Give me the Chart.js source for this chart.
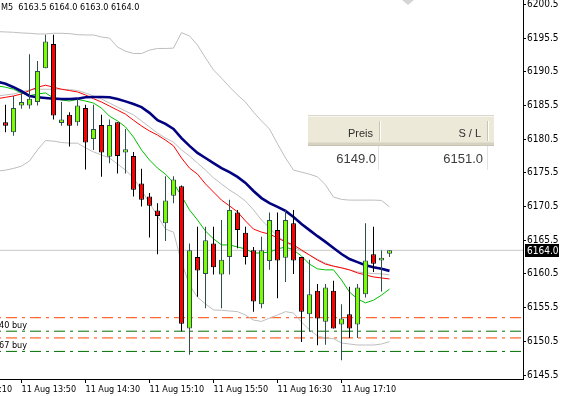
<!DOCTYPE html>
<html>
<head>
<meta charset="utf-8">
<script src="https://cdn.jsdelivr.net/npm/chart.js@4.4.1/dist/chart.umd.min.js"></script>
<style>
  html, body { margin: 0; padding: 0; background: #fff; }
  #wrap { position: relative; width: 563px; height: 396px; overflow: hidden; }
  canvas { display: block; }
</style>
</head>
<body>
<div id="wrap"><canvas id="c" width="563" height="396"></canvas></div>
<script>
// M5 candles, 11 Aug 13:40 .. 17:40
const opens  = [6183.0, 6181.5, 6185.5, 6185.5, 6186.0, 6191.0, 6194.6, 6182.9, 6184.1, 6183.0,
                6185.1, 6180.5, 6182.6, 6177.9, 6183.0, 6178.5, 6178.0, 6173.9, 6172.0, 6169.9,
                6168.0, 6172.1, 6173.5, 6152.4, 6163.0, 6160.5, 6165.0, 6160.4, 6163.0, 6169.6,
                6166.6, 6164.0, 6156.0, 6162.4, 6167.0, 6162.9, 6168.0, 6163.0, 6154.5, 6158.0,
                6153.4, 6158.0, 6153.0, 6154.5, 6153.0, 6157.5, 6163.4, 6162.5, 6163.5];
const highs  = [6185.6, 6186.9, 6187.5, 6193.1, 6192.1, 6196.0, 6196.0, 6186.0, 6184.5, 6186.5,
                6185.6, 6185.6, 6184.1, 6183.4, 6183.0, 6182.0, 6178.6, 6176.1, 6172.5, 6171.0,
                6175.0, 6175.0, 6173.6, 6165.0, 6167.5, 6167.5, 6167.5, 6168.5, 6171.5, 6170.0,
                6167.5, 6164.5, 6166.0, 6169.6, 6169.6, 6170.0, 6170.0, 6163.0, 6162.6, 6159.0,
                6159.0, 6159.5, 6156.0, 6158.6, 6159.0, 6168.0, 6167.5, 6164.0, 6164.0];
const lows   = [6181.5, 6181.0, 6185.0, 6185.0, 6185.5, 6191.0, 6183.4, 6182.5, 6179.4, 6182.5,
                6176.0, 6178.9, 6174.9, 6176.9, 6175.4, 6175.4, 6172.0, 6170.5, 6165.9, 6163.4,
                6165.4, 6171.0, 6152.0, 6148.5, 6157.1, 6155.4, 6160.4, 6155.4, 6160.4, 6164.3,
                6161.9, 6154.9, 6155.4, 6161.1, 6156.9, 6159.3, 6160.5, 6150.4, 6151.9, 6149.9,
                6150.0, 6152.4, 6147.7, 6151.0, 6151.0, 6157.0, 6160.8, 6157.9, 6163.0];
const closes = [6182.5, 6185.1, 6186.0, 6186.5, 6190.6, 6195.0, 6184.0, 6183.4, 6182.5, 6185.5,
                6180.0, 6182.0, 6178.5, 6182.6, 6178.0, 6179.0, 6173.0, 6171.5, 6170.6, 6169.1,
                6171.4, 6174.5, 6153.1, 6164.0, 6161.0, 6165.5, 6161.5, 6162.6, 6170.0, 6167.0,
                6163.0, 6156.4, 6164.0, 6168.5, 6162.5, 6168.5, 6162.5, 6154.9, 6157.5, 6153.9,
                6158.5, 6152.4, 6153.9, 6152.4, 6158.5, 6162.5, 6162.0, 6162.9, 6164.0];

// indicator lines start one bar before the first candle
const lineStart = -1;
const bandUpper  = [6196.45, 6196.4, 6196.35, 6196.25, 6196.2, 6196.1, 6196.1, 6196.2, 6196.2, 6196.15,
                    6196.0, 6195.95, 6195.95, 6195.65, 6195.5, 6194.15, 6193.55, 6193.2, 6193.2, 6193.7,
                    6193.95, 6193.95, 6194.0, 6196.3, 6195.8, 6194.45, 6192.55, 6190.75, 6189.55, 6188.25,
                    6187.05, 6186.0, 6184.5, 6183.2, 6182.0, 6179.8, 6177.7, 6175.9, 6175.6, 6175.3,
                    6174.9, 6173.7, 6171.9, 6171.55, 6171.45, 6171.45, 6171.45, 6171.45, 6171.4, 6170.45];
const bandMiddle = [6186.9, 6187.05, 6187.2, 6187.5, 6187.8, 6187.9, 6187.9, 6187.9, 6187.9, 6187.85,
                    6187.7, 6187.35, 6186.9, 6186.45, 6185.85, 6185.25, 6184.65, 6184.1, 6183.2, 6182.3,
                    6181.4, 6180.65, 6180.05, 6178.9, 6178.0, 6176.95, 6175.9, 6174.75, 6173.85, 6172.95,
                    6172.2, 6171.3, 6170.0, 6168.5, 6167.3, 6166.1, 6165.25, 6164.5, 6163.9, 6163.3,
                    6162.7, 6162.1, 6161.65, 6161.4, 6161.1, 6160.8, 6160.65, 6160.55, 6160.5, 6160.35];
const bandLower  = [6175.75, 6175.9, 6176.15, 6176.5, 6177.25, 6178.9, 6180.3, 6180.2, 6180.0, 6179.9,
                    6179.9, 6179.2, 6178.6, 6178.15, 6177.7, 6176.8, 6175.9, 6174.75, 6172.95, 6171.0,
                    6169.1, 6167.15, 6166.7, 6162.25, 6158.85, 6157.05, 6156.05, 6155.15, 6155.1, 6155.0,
                    6154.9, 6154.4, 6153.65, 6153.45, 6153.95, 6154.4, 6154.9, 6154.7, 6153.35, 6152.2,
                    6151.3, 6151.0, 6150.9, 6150.25, 6150.1, 6149.95, 6149.95, 6149.95, 6150.1, 6150.45];
const maRed      = [6186.5, 6186.7, 6186.9, 6187.2, 6187.7, 6188.2, 6188.5, 6188.2, 6187.9, 6187.7,
                    6187.5, 6187.05, 6186.5, 6186.0, 6185.4, 6184.8, 6184.2, 6183.3, 6182.45, 6181.7,
                    6181.1, 6180.35, 6179.5, 6177.7, 6176.2, 6175.3, 6173.85, 6172.65, 6171.45, 6170.6,
                    6169.7, 6168.35, 6167.15, 6166.7, 6166.4, 6165.85, 6165.25, 6164.8, 6164.05, 6163.3,
                    6162.55, 6161.95, 6161.65, 6161.4, 6161.1, 6160.65, 6160.35, 6160.05, 6159.9, 6159.75];
const maGreen    = [6188.4, 6188.2, 6187.9, 6187.35, 6186.95, 6187.2, 6187.35, 6186.6, 6186.3, 6186.15,
                    6186.4, 6186.15, 6185.85, 6185.1, 6183.9, 6183.2, 6182.3, 6180.8, 6178.9, 6177.4,
                    6176.2, 6175.3, 6174.0, 6172.05, 6170.0, 6168.5, 6166.85, 6165.7, 6164.8, 6164.8,
                    6164.5, 6164.2, 6163.6, 6163.6, 6163.75, 6164.2, 6164.5, 6164.05, 6163.15, 6161.95,
                    6161.25, 6161.1, 6161.1, 6159.6, 6157.8, 6156.8, 6156.2, 6156.6, 6157.35, 6158.25];
const maNavy     = [6189.0, 6188.7, 6188.2, 6187.6, 6186.9, 6186.7, 6186.6, 6186.5, 6186.45, 6186.45,
                    6186.5, 6186.7, 6186.75, 6186.75, 6186.7, 6186.45, 6186.1, 6185.7, 6185.25, 6184.4,
                    6183.3, 6182.75, 6182.0, 6180.65, 6179.5, 6178.45, 6177.7, 6176.95, 6176.2, 6175.6,
                    6174.9, 6174.0, 6172.8, 6171.75, 6171.0, 6170.45, 6169.85, 6168.95, 6167.9, 6167.0,
                    6166.1, 6165.25, 6164.35, 6163.45, 6162.7, 6162.25, 6161.8, 6161.5, 6161.25, 6160.95];

// order levels
const stopLevels  = [6154.0, 6151.0];
const openLevels  = [6152.0, 6149.0];
const openLabels  = ['40 buy', '67 buy'];
const orderHeader = ['Preis', 'S / L'];
const orderValues = [6149.0, 6151.0];

// axes
const timeframe  = 'M5';
const tickIndex  = [-6, 2, 10, 18, 26, 34, 42];
const tickLabels = ['11 Aug 13:10', '11 Aug 13:50', '11 Aug 14:30', '11 Aug 15:10',
                    '11 Aug 15:50', '11 Aug 16:30', '11 Aug 17:10'];
const yTicks = [6145.5, 6150.5, 6155.5, 6160.5, 6165.5, 6170.5, 6175.5,
                6180.5, 6185.5, 6190.5, 6195.5, 6200.5];

const X_MIN = -0.6875, X_MAX = 64.6875;
const Y_MIN = 6144.907, Y_MAX = 6201.14;

const BULL = '#7CFC00', BEAR = '#FF0000', BULL_LINE = '#2F4F4F', BEAR_LINE = '#000000';
const FONT = '"DejaVu Sans Condensed", "Liberation Sans", Arial, sans-serif';
const TABLE_FONT = '"Liberation Sans", Arial, sans-serif';

const isBull = closes.map((c, i) => c >= opens[i]);

function series(arr) {
  return arr.map((v, k) => ({ x: k + lineStart, y: v }));
}
function hline(v) {
  return [{ x: X_MIN, y: v }, { x: X_MAX, y: v }];
}
function lineSet(data, color, width, order) {
  return { type: 'line', data: data, borderColor: color, borderWidth: width,
           pointRadius: 0, tension: 0, fill: false, order: order };
}
function levelSet(v, color) {
  const ds = lineSet(hline(v), color, 1, 8);
  ds.borderDash = [11, 5, 3, 5];
  ds.borderDashOffset = 18;
  return ds;
}

const datasets = [
  lineSet(hline(closes[closes.length - 1]), '#C8C8C8', 1, 9),
  ...stopLevels.map(v => levelSet(v, '#FF4500')),
  ...openLevels.map(v => levelSet(v, '#007000')),
  lineSet(series(bandUpper), '#BDBDBD', 1, 6),
  lineSet(series(bandMiddle), '#BDBDBD', 1, 6),
  lineSet(series(bandLower), '#BDBDBD', 1, 6),
  lineSet(series(maRed), '#FF0000', 1, 5),
  lineSet(series(maGreen), '#00C000', 1, 4),
  lineSet(series(maNavy), '#000080', 2.6, 3),
  {
    type: 'bar',
    data: highs.map((h, i) => ({ x: i, y: [lows[i], h] })),
    backgroundColor: isBull.map(b => b ? BULL_LINE : BEAR_LINE),
    borderWidth: 0, grouped: false, barThickness: 1, maxBarThickness: 1,
    inflateAmount: 0, order: 1
  },
  {
    type: 'bar',
    data: opens.map((o, i) => ({ x: i, y: [o, closes[i]] })),
    backgroundColor: isBull.map(b => b ? BULL : BEAR),
    borderColor: isBull.map(b => b ? BULL_LINE : BEAR_LINE),
    borderWidth: 1, borderSkipped: false, grouped: false,
    barThickness: 5, maxBarThickness: 5, inflateAmount: 0, order: 0
  }
];

const overlay = {
  id: 'overlay',
  afterDraw(chart) {
    const ctx = chart.ctx;
    const ys = chart.scales.y;
    const n = closes.length - 1;
    ctx.save();
    ctx.textBaseline = 'alphabetic';

    // title
    ctx.fillStyle = '#000';
    ctx.font = '9px ' + FONT;
    ctx.textAlign = 'left';
    ctx.fillText(timeframe + '  ' + [opens[n], highs[n], lows[n], closes[n]].map(v => v.toFixed(1)).join(' '), 1, 10);

    // order labels
    ctx.textAlign = 'right';
    openLevels.forEach((v, k) => {
      ctx.fillText(openLabels[k], 27, Math.round(ys.getPixelForValue(v)) - 3);
    });

    // tip of an object peeking in at the top edge
    ctx.fillStyle = '#D4D4D4';
    ctx.beginPath();
    ctx.moveTo(402, 0);
    ctx.lineTo(414, 0);
    ctx.lineTo(408, 5);
    ctx.closePath();
    ctx.fill();

    // price tag
    const py = Math.round(ys.getPixelForValue(closes[n]));
    ctx.fillStyle = '#000';
    ctx.fillRect(525, py - 6, 34, 13);
    ctx.fillStyle = '#fff';
    ctx.font = '10px ' + FONT;
    ctx.textAlign = 'left';
    ctx.fillText(closes[n].toFixed(1), 527, py + 4);

    // order table
    ctx.fillStyle = '#ECE9D8';
    ctx.fillRect(308, 115, 186, 31);
    ctx.fillStyle = '#DAD7CB';
    ctx.fillRect(308, 115, 186, 1);
    ctx.fillStyle = '#F7F6F1';
    ctx.fillRect(308, 116, 186, 1);
    ctx.fillStyle = '#E2DECD';
    ctx.fillRect(308, 142, 186, 1);
    ctx.fillStyle = '#D6D2C2';
    ctx.fillRect(308, 143, 186, 2);
    ctx.fillStyle = '#C8C4B4';
    ctx.fillRect(308, 145, 186, 1);
    [379, 487].forEach(x => {
      ctx.fillStyle = '#C9C5B5';
      ctx.fillRect(x, 121, 1, 20);
      ctx.fillStyle = '#FFFFFF';
      ctx.fillRect(x + 1, 121, 1, 20);
    });
    ctx.fillStyle = '#fff';
    ctx.fillRect(308, 146, 186, 24);
    ctx.fillStyle = '#E2E2E2';
    ctx.fillRect(378, 146, 1, 24);
    ctx.fillRect(487, 146, 1, 24);

    ctx.fillStyle = '#2E2E2E';
    ctx.font = '11px ' + TABLE_FONT;
    ctx.textAlign = 'right';
    ctx.fillText(orderHeader[0], 373, 137);
    ctx.fillText(orderHeader[1], 481, 137);
    ctx.fillStyle = '#3C3C3C';
    ctx.font = '13px ' + TABLE_FONT;
    ctx.fillText(orderValues[0].toFixed(1), 376, 163);
    ctx.fillText(orderValues[1].toFixed(1), 483, 163);
    ctx.restore();
  }
};

new Chart(document.getElementById('c'), {
  type: 'bar',
  data: { datasets: datasets },
  plugins: [overlay],
  options: {
    responsive: false,
    animation: false,
    events: [],
    layout: { padding: 0 },
    plugins: { legend: { display: false }, tooltip: { enabled: false } },
    scales: {
      x: {
        type: 'linear', min: X_MIN, max: X_MAX, offset: false,
        grid: { display: true, drawOnChartArea: false, drawTicks: true, tickLength: 4, color: '#000', offset: false },
        border: { display: true, color: '#000' },
        ticks: {
          autoSkip: false, maxRotation: 0, align: 'start', padding: 1, color: '#000',
          font: { family: FONT, size: 9 },
          callback: (v, i) => tickLabels[i]
        },
        afterBuildTicks: s => { s.ticks = tickIndex.map(v => ({ value: v })); },
        afterFit: s => { s.height = 17; s.paddingLeft = 0; s.paddingRight = 0; }
      },
      y: {
        type: 'linear', position: 'right', min: Y_MIN, max: Y_MAX, beginAtZero: false,
        grid: { display: true, drawOnChartArea: false, drawTicks: true, tickLength: 3, color: '#000' },
        border: { display: true, color: '#000' },
        ticks: {
          padding: 1, color: '#000', font: { family: FONT, size: 10 },
          callback: v => v.toFixed(1)
        },
        afterBuildTicks: s => { s.ticks = yTicks.map(v => ({ value: v })); },
        afterFit: s => { s.width = 40; s.paddingTop = 0; s.paddingBottom = 0; }
      }
    }
  }
});
</script>
</body>
</html>
